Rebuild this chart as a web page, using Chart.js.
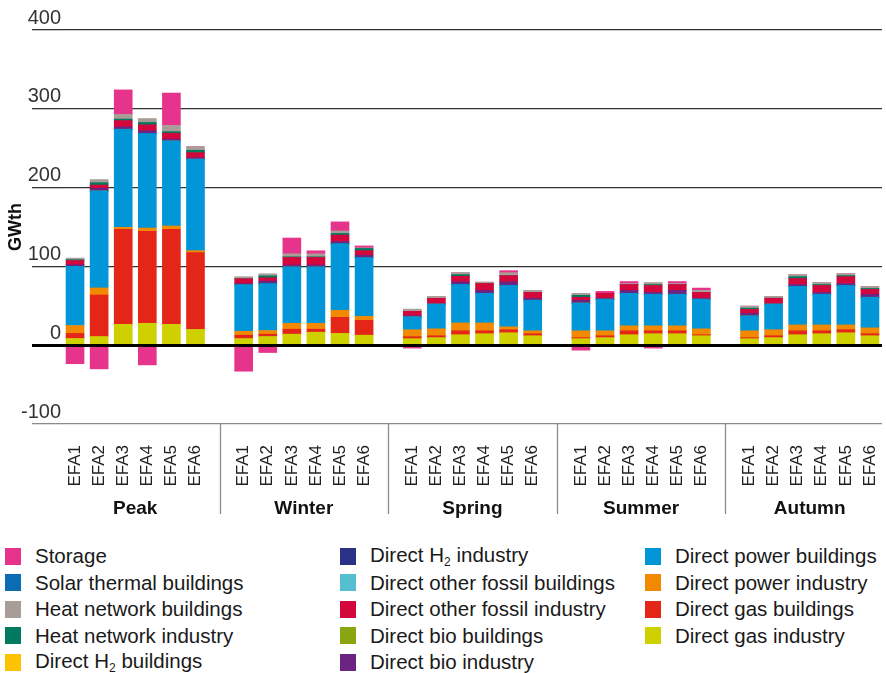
<!DOCTYPE html>
<html lang="en">
<head>
<meta charset="UTF-8">
<title>Heat demand by EFA block</title>
<script src="https://cdn.jsdelivr.net/npm/chart.js@4.4.1/dist/chart.umd.min.js"></script>
<style>
  body { margin: 0; background: #fff; overflow: hidden; font-family: "Liberation Sans", Arial, sans-serif; color: #1a1a1a; }
  #wrap { position: relative; width: 886px; height: 526px; }
  #legend {
    position: absolute; left: 0; top: 543px; width: 886px;
    display: grid; grid-template-columns: 335px 305px 246px;
    grid-template-rows: repeat(5, 26.5px); grid-auto-flow: column;
  }
  .item { display: flex; align-items: center; font-size: 20.5px; white-space: nowrap; }
  .sw { width: 16px; height: 17px; margin-left: 5px; margin-right: 14px; flex: none; }
  sub { font-size: 12px; vertical-align: -4px; }
</style>
</head>
<body>
<div id="wrap"><canvas id="chart"></canvas></div>
<div id="legend"></div>

<script>
const seasons = ['Peak', 'Winter', 'Spring', 'Summer', 'Autumn'];
const blocks = ['EFA1', 'EFA2', 'EFA3', 'EFA4', 'EFA5', 'EFA6'];

// GWth, six EFA blocks per season (Peak, Winter, Spring, Summer, Autumn)
const gasIndustry = [
  8.5, 11, 26.5, 27.8, 26.5, 20,
  8.4, 11, 14, 16.5, 15, 12.7,
  8.3, 9.6, 13.3, 14.6, 15.8, 12,
  8.3, 9.6, 13.3, 14.6, 14.6, 12,
  8.3, 9.6, 13.3, 14.6, 15.8, 12
];
const gasBuildings = [
  6.5, 52.7, 120.5, 116.6, 120.5, 97.5,
  4.3, 3, 6.3, 3.8, 20.4, 18.9,
  2.5, 2.4, 5, 3.7, 3.8, 2.6,
  1.3, 2.4, 5, 3.7, 3.7, 1.3,
  1.3, 2.4, 5, 3.7, 3.8, 2.6
];
const powerIndustry = [
  10, 9, 2.6, 4.3, 4.3, 2.5,
  5, 4.6, 7.5, 7.5, 8.9, 5.1,
  8.8, 8.8, 10, 10, 3.7, 3.7,
  8.7, 6.3, 6.3, 6.3, 6.3, 7.5,
  8.7, 7.6, 7.5, 7.5, 6.2, 7.4
];
const powerBuildings = [
  75, 123, 124.4, 120, 107.7, 116,
  59, 59.4, 71.2, 71.2, 84.4, 74.3,
  16.2, 31.2, 48.7, 37.5, 52.5, 38.7,
  35, 40, 41.2, 40, 40, 37.5,
  18.7, 32.4, 48.8, 38.8, 50, 38.8
];
const bioIndustry = [
  2, 3.5, 3, 3.4, 2.5, 2,
  1.3, 3.4, 2.7, 2.7, 2.9, 3,
  1.7, 0.8, 3.4, 3.8, 4.6, 2.6,
  3.7, 1.3, 3.8, 2.4, 5, 1.3,
  3.4, 0.8, 2.4, 2.4, 2.5, 3.8
];
const otherFossilIndustry = [
  5.5, 4, 8, 7.6, 7.5, 6.4,
  6.3, 4.2, 9.7, 9.7, 8.1, 6,
  5.5, 6.7, 7.1, 8.7, 7.9, 7.4,
  3.8, 6.2, 7.4, 8.8, 7.4, 7.4,
  5, 6.8, 7.6, 8.8, 8.7, 6.2
];
const heatNetworkIndustry = [
  1, 3, 2, 3, 2, 3,
  0, 2.4, 0.8, 0.8, 2.1, 2.8,
  0, 0, 2.1, 0, 0, 0,
  2.5, 0, 0, 1.2, 0, 0,
  1.6, 0, 2.4, 1.2, 1.3, 1.2
];
const heatNetworkBuildings = [
  2, 4, 6, 5, 8, 4.6,
  2.6, 2.7, 3.8, 3.8, 3.2, 0.8,
  2.8, 2.5, 2.5, 1.7, 3.7, 2.6,
  2.5, 0, 1.3, 2.6, 1.3, 2.6,
  2.6, 2.4, 2.6, 2.6, 2.5, 2.6
];
const storage = [
  -23.5, -30, 31, -25, 41, 0,
  -33, -9.3, 20, 3.8, 11.5, 2.4,
  -3.7, 0, 0, 0, 2.6, 0,
  -6.3, 2.5, 2.5, -3.7, 2.5, 2.9,
  0, 0, 0, 0, 0, 0
];
// series that carry no heat in any block
const none = new Array(30).fill(0);

// stacking order, bottom first
const series = [
  { name: 'Direct gas industry', data: gasIndustry, color: '#cfd000' },
  { name: 'Direct gas buildings', data: gasBuildings, color: '#e42618' },
  { name: 'Direct power industry', data: powerIndustry, color: '#f18a00' },
  { name: 'Direct power buildings', data: powerBuildings, color: '#0096d7' },
  { name: 'Solar thermal buildings', data: none, color: '#0a6db3' },
  { name: 'Direct H<sub>2</sub> industry', data: none, color: '#2b3187' },
  { name: 'Direct H<sub>2</sub> buildings', data: none, color: '#fdc300' },
  { name: 'Direct other fossil buildings', data: none, color: '#55bfd1' },
  { name: 'Direct bio buildings', data: none, color: '#8aa512' },
  { name: 'Direct bio industry', data: bioIndustry, color: '#6c2483' },
  { name: 'Direct other fossil industry', data: otherFossilIndustry, color: '#d3073c' },
  { name: 'Heat network industry', data: heatNetworkIndustry, color: '#007a5e' },
  { name: 'Heat network buildings', data: heatNetworkBuildings, color: '#a89e97' },
  { name: 'Storage', data: storage, color: '#e6348c' }
];

// legend reads down the columns
const legendOrder = [
  'Storage', 'Solar thermal buildings', 'Heat network buildings', 'Heat network industry', 'Direct H<sub>2</sub> buildings',
  'Direct H<sub>2</sub> industry', 'Direct other fossil buildings', 'Direct other fossil industry', 'Direct bio buildings', 'Direct bio industry',
  'Direct power buildings', 'Direct power industry', 'Direct gas buildings', 'Direct gas industry'
];

// one empty slot between seasons
const axisLabels = [];
seasons.forEach((s, i) => {
  axisLabels.push(...blocks);
  if (i < seasons.length - 1) axisLabels.push('');
});
function withGaps(vals) {
  const out = [];
  seasons.forEach((s, i) => {
    out.push(...vals.slice(i * 6, i * 6 + 6));
    if (i < seasons.length - 1) out.push(null);
  });
  return out;
}

const FONT = '"Liberation Sans", Arial, sans-serif';
Chart.defaults.font.family = FONT;
Chart.defaults.color = '#222';

const TICK_LEN = 31;

// zero line sits over the bars
const zeroLine = {
  id: 'zeroLine',
  afterDatasetsDraw(chart) {
    const y = chart.scales.y, ctx = chart.ctx;
    const py = Math.round(y.getPixelForValue(0)) + 0.5;
    ctx.save();
    ctx.strokeStyle = '#000';
    ctx.lineWidth = 3;
    ctx.beginPath();
    ctx.moveTo(y.right - TICK_LEN, py);
    ctx.lineTo(chart.chartArea.right, py);
    ctx.stroke();
    ctx.restore();
  }
};

// thin rules between the season groups under the axis
const groupDividers = {
  id: 'groupDividers',
  afterDraw(chart) {
    const x = chart.scales.x, ctx = chart.ctx;
    ctx.save();
    ctx.strokeStyle = '#8c8c8c';
    ctx.lineWidth = 1.3;
    axisLabels.forEach((l, i) => {
      if (l !== '') return;
      const px = Math.round(x.getPixelForValue(i)) + 0.5;
      ctx.beginPath();
      ctx.moveTo(px, chart.chartArea.bottom);
      ctx.lineTo(px, 514);
      ctx.stroke();
    });
    ctx.restore();
  }
};

// keep the plot running to the right edge
function noSidePadding(s) { s.paddingLeft = 0; s.paddingRight = 0; }

new Chart(document.getElementById('chart'), {
  type: 'bar',
  data: {
    labels: axisLabels,
    datasets: series.map(s => ({
      label: s.name,
      data: withGaps(s.data),
      backgroundColor: s.color,
      borderWidth: 0,
      barThickness: 18,
      xAxisID: 'x'
    }))
  },
  options: {
    responsive: true,
    maintainAspectRatio: false,
    animation: false,
    layout: { padding: { top: 30, right: 4, left: 0, bottom: 0 } },
    plugins: { legend: { display: false }, tooltip: { enabled: false } },
    scales: {
      x: {
        stacked: true,
        offset: true,
        grid: { display: false },
        border: { display: false },
        ticks: { autoSkip: false, minRotation: 90, maxRotation: 90, padding: 13, font: { size: 17 }, color: '#222' },
        afterFit: s => { s.height = 62; noSidePadding(s); }
      },
      x2: {
        type: 'category',
        labels: axisLabels,
        position: 'bottom',
        offset: true,
        grid: { display: false },
        border: { display: false },
        ticks: {
          autoSkip: false, maxRotation: 0, padding: 3, labelOffset: 12,
          font: { size: 19, weight: 'bold' }, color: '#111',
          callback: (v, i) => (i % 7 === 2 ? seasons[Math.floor(i / 7)] : '')
        },
        afterFit: s => { s.height = 40; noSidePadding(s); }
      },
      y: {
        stacked: true,
        min: -100,
        max: 400,
        border: { display: false },
        grid: {
          tickLength: TICK_LEN,
          color: c => (c.tick && c.tick.value === -100 ? '#8c8c8c' : c.tick && c.tick.value === 0 ? '#000' : '#333'),
          lineWidth: c => (c.tick && c.tick.value === 0 ? 3 : 1.3)
        },
        ticks: { stepSize: 100, padding: -29, labelOffset: -12, font: { size: 20 }, color: '#333' },
        title: { display: true, text: 'GWth', color: '#111', font: { size: 18, weight: 'bold' }, padding: { top: 5, bottom: 0 } },
        afterFit: s => { s.width = 63; }
      }
    }
  },
  plugins: [zeroLine, groupDividers]
});

// legend
const byName = Object.fromEntries(series.map(s => [s.name, s.color]));
const legend = document.getElementById('legend');
legendOrder.forEach(name => {
  const item = document.createElement('div');
  item.className = 'item';
  item.innerHTML = '<span class="sw" style="background:' + byName[name] + '"></span><span>' + name + '</span>';
  legend.appendChild(item);
});
</script>
</body>
</html>
